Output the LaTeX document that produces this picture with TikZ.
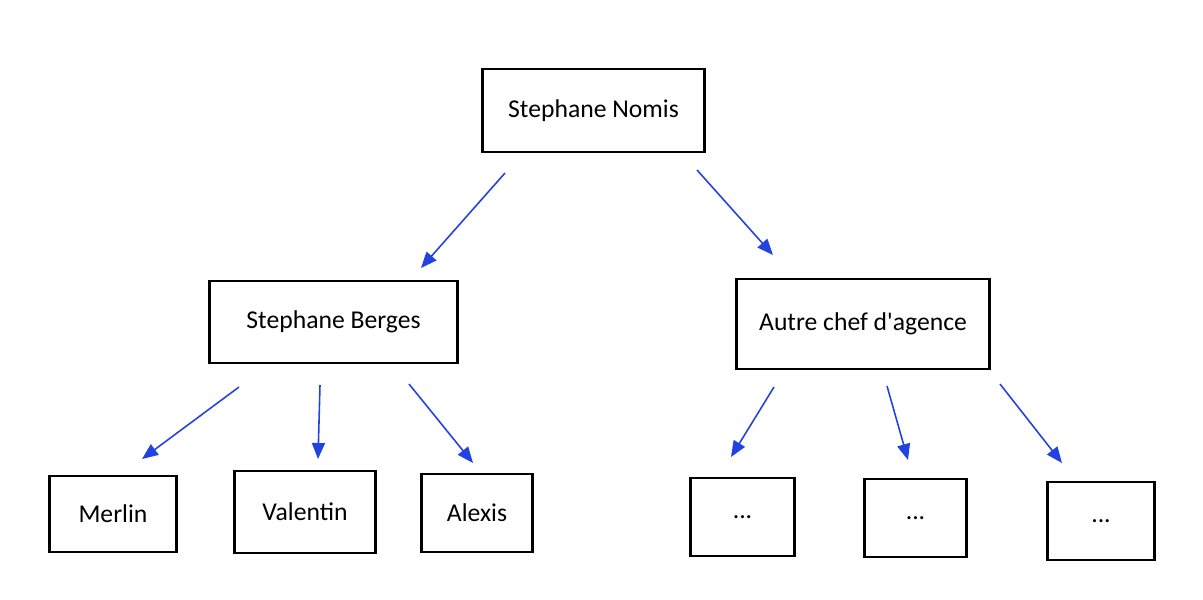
\documentclass[tikz,border=0pt]{standalone}
\usepackage{fontspec}
\setmainfont{Carlito}
\usetikzlibrary{arrows.meta}
\definecolor{bleu}{HTML}{2243E0}
\begin{document}
\begin{tikzpicture}[x=0.02cm,y=-0.02cm]
    \tikzset{
        boite/.style={draw, line width=1.6pt, font=\fontsize{14.6}{17}\selectfont, inner sep=0pt},
        fleche/.style={draw=bleu, line width=0.9pt, -{Triangle[length=0.32cm,width=0.26cm]}}
    }
    \useasboundingbox (0,0) rectangle (1203,599);

    % Boîtes
    \node[boite, minimum width=4.44cm, minimum height=1.66cm] (nomis) at (593.5,110.5) {Stephane Nomis};
    \node[boite, minimum width=4.96cm, minimum height=1.64cm] (berges) at (333.5,322) {Stephane Berges};
    \node[boite, minimum width=5.06cm, minimum height=1.80cm] (autre) at (863,324) {Autre chef d\textquotesingle agence};
    \node[boite, minimum width=2.54cm, minimum height=1.52cm] (merlin) at (113,514) {Merlin};
    \node[boite, minimum width=2.82cm, minimum height=1.64cm] (valentin) at (305,512) {Valentin};
    \node[boite, minimum width=2.22cm, minimum height=1.56cm] (alexis) at (477,513) {Alexis};
    \node[boite, minimum width=2.08cm, minimum height=1.56cm] (p1) at (742.5,517) {...};
    \node[boite, minimum width=2.04cm, minimum height=1.56cm] (p2) at (915.5,518) {...};
    \node[boite, minimum width=2.14cm, minimum height=1.56cm] (p3) at (1101,521) {...};

    % Flèches
    \coordinate (d1) at (505,173);  \coordinate (f1) at (421,268);
    \coordinate (d2) at (697,170);  \coordinate (f2) at (773,255);
    \coordinate (d3) at (239,387);  \coordinate (f3) at (142,459);
    \coordinate (d4) at (320,385);  \coordinate (f4) at (318,459);
    \coordinate (d5) at (409,384);  \coordinate (f5) at (473,463);
    \coordinate (d6) at (774,387);  \coordinate (f6) at (731,457);
    \coordinate (d7) at (887,386);  \coordinate (f7) at (908,460);
    \coordinate (d8) at (1000,384); \coordinate (f8) at (1062,463);
    \foreach \i in {1,...,8}
        \draw[fleche] (d\i) -- (f\i);
\end{tikzpicture}
\end{document}
